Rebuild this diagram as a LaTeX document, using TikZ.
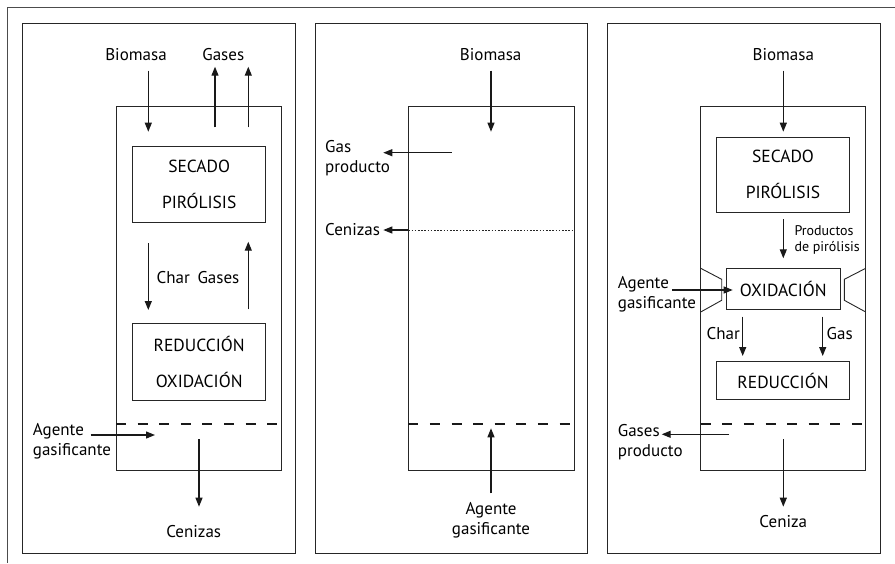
\documentclass[tikz,border=0pt]{standalone}
\usepackage{fontspec}
\setmainfont{PT Sans}
\usetikzlibrary{arrows.meta}
\begin{document}
\begin{tikzpicture}[x=1pt,y=-1pt,
  frame/.style={draw=black!85,line width=0.9pt},
  arr/.style={draw=black!90,line width=1.2pt,-{Triangle[length=9pt,width=7pt]}},
  lbl/.style={inner sep=0pt,font=\fontsize{17}{20}\selectfont,text=black,align=left},
  lblc/.style={inner sep=0pt,font=\fontsize{17}{20}\selectfont,text=black,align=center},
  lblsm/.style={inner sep=0pt,font=\fontsize{14}{16.6}\selectfont,text=black,align=left},
  stage/.style={draw=black!85,line width=0.9pt,inner sep=0pt,align=center,text=black,font=\fontsize{17.5}{36}\selectfont},
  grate/.style={draw=black!90,line width=2.6pt,dash pattern=on 10pt off 11.6pt},
  dots/.style={draw=black!85,line width=0.8pt,dash pattern=on 1.6pt off 1.6pt},
]
\useasboundingbox (0,0) rectangle (895,563);
% page border
\draw[line width=1pt,black!70] (895,7.3) -- (7.3,7.3) -- (7.3,563);

% ================= Panel 1 =================
\draw[frame] (22.7,23.3) rectangle (295.7,553.3);
\draw[frame] (116,106.7) rectangle (281.7,470);
\node[lblc] (bio1) at (136,54.3) {Biomasa};
\node[lblc] (gas1) at (223.3,54.3) {Gases};
\node[stage,minimum width=133pt,minimum height=76.3pt] (sp1) at (199.2,184.2) {SECADO\\PIRÓLISIS};
\node[stage,minimum width=133pt,minimum height=76.7pt] (ro1) at (199.2,361.7) {REDUCCIÓN\\OXIDACIÓN};
\node[lblc] (cg1) at (198,278) {Char\hspace{0.45em}Gases};
\node[lbl,anchor=west] (ag1) at (32.7,441.7) {Agente\\gasificante};
\node[lblc] (cen1) at (193.7,531.7) {Cenizas};
\coordinate (b1s) at (148.3,70.7); \coordinate (b1e) at (148.3,131.7);
\coordinate (g1as) at (215,127.3); \coordinate (g1ae) at (215,66.7);
\coordinate (g1bs) at (248.3,127.3); \coordinate (g1be) at (248.3,66.7);
\coordinate (c1s) at (148.3,243.3); \coordinate (c1e) at (148.3,310);
\coordinate (u1s) at (248.3,309.3); \coordinate (u1e) at (248.3,241.7);
\coordinate (a1s) at (90.7,435); \coordinate (a1e) at (155,435);
\coordinate (z1s) at (199,439.3); \coordinate (z1e) at (199,506.7);
\coordinate (d1s) at (116,424); \coordinate (d1e) at (281.7,424);
\draw[arr] (b1s) -- (b1e);
\draw[arr] (g1as) -- (g1ae);
\draw[arr] (g1bs) -- (g1be);
\draw[arr] (c1s) -- (c1e);
\draw[arr] (u1s) -- (u1e);
\draw[arr] (a1s) -- (a1e);
\draw[arr] (z1s) -- (z1e);
\draw[grate] (d1s) -- (d1e);

% ================= Panel 2 =================
\draw[frame] (315,23.3) rectangle (587.3,553.3);
\draw[frame] (408.3,106.7) rectangle (574,470);
\node[lblc] (bio2) at (490.7,54.3) {Biomasa};
\node[lbl,anchor=west] (gp2) at (325,158.3) {Gas\\producto};
\node[lbl,anchor=west] (cen2) at (325,230) {Cenizas};
\node[lblc] (ag2) at (491,520) {Agente\\gasificante};
\coordinate (b2s) at (491,70.7); \coordinate (b2e) at (491,131.7);
\coordinate (p2s) at (451.7,152.7); \coordinate (p2e) at (383.3,152.7);
\coordinate (c2s) at (408.3,230); \coordinate (c2e) at (383.3,230);
\coordinate (c2r) at (574,230);
\coordinate (a2s) at (491,493.3); \coordinate (a2e) at (491,428.3);
\coordinate (d2s) at (408.3,424); \coordinate (d2e) at (574,424);
\draw[arr] (b2s) -- (b2e);
\draw[arr] (p2s) -- (p2e);
\draw[arr] (c2s) -- (c2e);
\draw[dots] (c2s) -- (c2r);
\draw[arr] (a2s) -- (a2e);
\draw[grate] (d2s) -- (d2e);

% ================= Panel 3 =================
\draw[frame] (607.7,23.3) rectangle (880,553.3);
\draw[frame] (700.7,106.7) rectangle (865.7,470);
\node[lblc] (bio3) at (783.3,54.3) {Biomasa};
\node[stage,minimum width=132.6pt,minimum height=75pt] (sp3) at (783,174.8) {SECADO\\PIRÓLISIS};
\node[stage,minimum width=113.3pt,minimum height=41pt] (ox3) at (783.3,288.8) {OXIDACIÓN};
\node[stage,minimum width=132.6pt,minimum height=37.6pt] (re3) at (783,380.5) {REDUCCIÓN};
\node[lblsm,anchor=west] (pp3) at (794.3,240) {Productos\\de pirólisis};
\node[lbl,anchor=west] (ag3) at (617.7,294.2) {Agente\\gasificante};
\node[lblc,anchor=east] (ch3) at (740,333.3) {Char};
\node[lblc,anchor=west] (ga3) at (826.5,333.3) {Gas};
\node[lbl,anchor=west] (gp3) at (617.7,441.7) {Gases\\producto};
\node[lblc] (cen3) at (783.3,521.7) {Ceniza};
% throat (constriction)
\draw[frame] (700.7,268.3) -- (721.7,279.3) -- (721.7,300.3) -- (700.7,312);
\draw[frame] (865.7,268.3) -- (844.3,279.3) -- (844.3,300.3) -- (865.7,312);
\coordinate (b3s) at (783.3,70.7); \coordinate (b3e) at (783.3,131.7);
\coordinate (p3s) at (783.3,219); \coordinate (p3e) at (783.3,258.3);
\coordinate (a3s) at (672.3,290); \coordinate (a3e) at (732.7,290);
\coordinate (ch3s) at (742.7,316.7); \coordinate (ch3e) at (742.7,356);
\coordinate (ga3s) at (822.7,316.7); \coordinate (ga3e) at (822.7,356);
\coordinate (g3s) at (729,434.3); \coordinate (g3e) at (661.7,434.3);
\coordinate (z3s) at (783.3,439.3); \coordinate (z3e) at (783.3,506.7);
\coordinate (d3s) at (700.7,424); \coordinate (d3e) at (865.7,424);
\draw[arr] (b3s) -- (b3e);
\draw[arr] (p3s) -- (p3e);
\draw[arr] (a3s) -- (a3e);
\draw[arr] (ch3s) -- (ch3e);
\draw[arr] (ga3s) -- (ga3e);
\draw[arr] (g3s) -- (g3e);
\draw[arr] (z3s) -- (z3e);
\draw[grate] (d3s) -- (d3e);
\end{tikzpicture}
\end{document}
